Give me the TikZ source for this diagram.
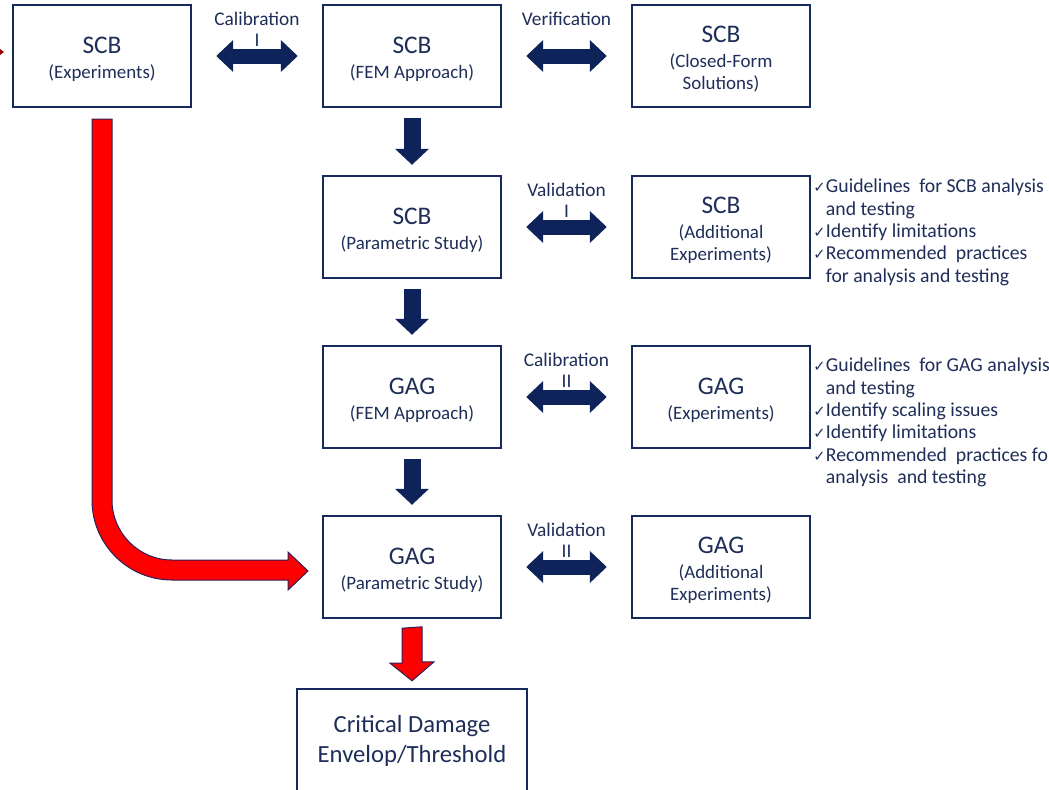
\documentclass[tikz,border=0pt]{standalone}
\usepackage{fontspec}
\setmainfont{Carlito}
\newfontfamily\ckfont{DejaVu Sans}
\usetikzlibrary{arrows.meta,calc}
\definecolor{navy}{RGB}{14,35,90}
\definecolor{boxline}{RGB}{22,42,92}
\definecolor{ink}{RGB}{30,46,88}
\definecolor{outl}{RGB}{45,30,90}
\newcommand{\tit}[1]{{\fontsize{19}{21}\selectfont\rule{0pt}{17pt}#1}}
\newcommand{\ck}{\makebox[9.5pt][l]{\ckfont\fontsize{11}{11}\selectfont ✓}}
\newcommand{\ind}{\hspace*{9.5pt}}
\begin{document}
\begin{tikzpicture}[x=0.75pt,y=-0.75pt,
  box/.style={draw=boxline, line width=1.8pt, minimum width=133.5pt, minimum height=76.5pt,
    inner sep=2pt, align=center, text=ink, font=\fontsize{14.2}{16.5}\selectfont},
  lbl/.style={anchor=north, yshift=38.5pt, inner sep=0pt, align=center, text=ink,
    font=\fontsize{14.5}{16}\selectfont},
  dbl/.style={navy, line width=11.25pt, shorten <=18pt, shorten >=18pt,
    {Triangle[length=12.75pt,width=23.25pt]}-{Triangle[length=12.75pt,width=23.25pt]}},
  dn/.style={navy, line width=12.75pt, shorten <=7.5pt, shorten >=7.5pt,
    -{Triangle[length=12pt,width=24.75pt]}},
  notes/.style={anchor=north west, inner sep=0pt, align=left, text=ink,
    font=\fontsize{14.8}{16.7}\selectfont},
  redarr/.style={fill=red, draw=outl, line width=0.75pt}]

\useasboundingbox (0,0) rectangle (1049,789);

% boxes
\node[box] (scbexp) at (102,56) {\tit{SCB}\\[2pt](Experiments)};
\node[box] (scbfem) at (412,56) {\tit{SCB}\\[2pt](FEM Approach)};
\node[box] (scbcf)  at (721,56) {\tit{SCB}\\[2pt](Closed-Form\\Solutions)};
\node[box] (scbpar) at (412,227) {\tit{SCB}\\[2pt](Parametric Study)};
\node[box] (scbadd) at (721,227) {\tit{SCB}\\[2pt](Additional\\Experiments)};
\node[box] (gagfem) at (412,397) {\tit{GAG}\\[2pt](FEM Approach)};
\node[box] (gagexp) at (721,397) {\tit{GAG}\\[2pt](Experiments)};
\node[box] (gagpar) at (412,567) {\tit{GAG}\\[2pt](Parametric Study)};
\node[box] (gagadd) at (721,567) {\tit{GAG}\\[2pt](Additional\\Experiments)};
\node[box, minimum width=172.5pt, minimum height=78pt,
  font=\fontsize{18.5}{22}\selectfont] (crit) at (412,741) {Critical Damage\\Envelop/Threshold};

% two-way arrows
\draw[dbl] (scbexp) -- node[lbl]{Calibration\\I} (scbfem);
\draw[dbl] (scbfem) -- node[lbl]{Verification} (scbcf);
\draw[dbl] (scbpar) -- node[lbl]{Validation\\I} (scbadd);
\draw[dbl] (gagfem) -- node[lbl]{Calibration\\II} (gagexp);
\draw[dbl] (gagpar) -- node[lbl]{Validation\\II} (gagadd);

% down arrows
\draw[dn] (scbfem) -- (scbpar);
\draw[dn] (scbpar) -- (gagfem);
\draw[dn] (gagfem) -- (gagpar);

% red arrows
\path (gagpar.south) ++(0,9) coordinate (r1) (crit.north) ++(0,-7) coordinate (r2);
\draw[redarr] (r1) ++(-10,0) -- ++(0,35) -- ++(-12,0) -- (r2) -- ++(22,-19)
  -- ++(-12,0) -- ++(0,-35) -- cycle;
\coordinate (c1) at ($(scbexp.south)+(0,11)$);
\draw[redarr] (c1) ++(-10,0) -- (92,500) arc (180:90:80) -- (288,580) -- (288,590)
  -- (308,571) -- (288,552) -- (288,560) -- (172,560) arc (90:180:60)
  -- ($(c1)+(10,0)$) -- cycle;
\fill[red!60!black] (-4,46) -- (4,52) -- (-4,58) -- cycle;

% remarks
\node[notes] (scbnote) at (813,179) {\ck Guidelines\ \ for SCB analysis\\
  \ind and testing\\ \ck Identify limitations\\ \ck Recommended\ \ practices\\
  \ind for analysis and testing};
\node[notes] (gagnote) at (813,358) {\ck Guidelines\ \ for GAG analysis\\
  \ind and testing\\ \ck Identify scaling issues\\ \ck Identify limitations\\
  \ck Recommended\ \ practices for\\ \ind analysis\ \ and testing};
\end{tikzpicture}
\end{document}
